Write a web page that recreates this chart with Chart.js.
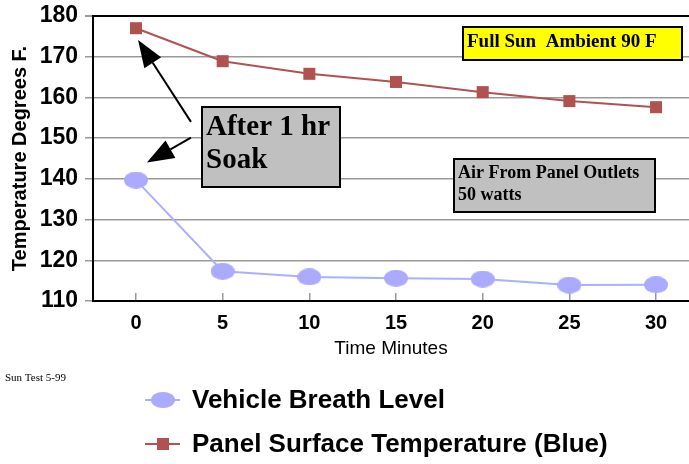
<!DOCTYPE html>
<html lang="en">
<head>
<meta charset="UTF-8">
<title>Sun Test 5-99</title>
<script src="https://cdn.jsdelivr.net/npm/chart.js"></script>
<style>
  html, body { margin: 0; padding: 0; background: #fff; overflow: hidden; }
  #wrap { width: 689px; height: 464px; position: relative; }
</style>
</head>
<body>
<div id="wrap"><canvas id="chart"></canvas></div>
<script>
// data
const minutes = [0, 5, 10, 15, 20, 25, 30];
const breathLevel = [139.7, 117.3, 115.9, 115.6, 115.4, 113.9, 114.0];
const panelSurface = [177.0, 168.9, 165.8, 163.8, 161.3, 159.1, 157.6];
const seriesNames = ['Vehicle Breath Level', 'Panel Surface Temperature (Blue)'];
const yTickStep = 5;

// notes placed in data units (minutes, degrees)
const notes = [
  { lines: ['Full Sun  Ambient 90 F'], x1: 18.86, x2: 31.5, y1: 177.4, y2: 169.1, fill: '#ffff00', size: 19, lineGap: 0 },
  { lines: ['Air From Panel Outlets', '50 watts'], x1: 18.34, x2: 29.93, y1: 144.95, y2: 131.96, fill: '#c0c0c0', size: 18, lineGap: 22 },
  { lines: ['After 1 hr', 'Soak'], x1: 3.81, x2: 11.76, y1: 157.7, y2: 138.1, fill: '#c0c0c0', size: 29, lineGap: 33 }
];
const arrows = [
  { from: [3.17, 154.0], to: [0.12, 174.1] },
  { from: [3.17, 150.1], to: [0.63, 144.0] }
];

function ellipseMarker(w, h, color) {
  const c = document.createElement('canvas');
  c.width = w; c.height = h;
  const g = c.getContext('2d');
  g.fillStyle = color;
  g.beginPath();
  g.ellipse(w / 2, h / 2, w / 2, h / 2, 0, 0, Math.PI * 2);
  g.fill();
  return c;
}
const lavender = '#aaaaff';
const brick = '#b05250';
const breathMarker = ellipseMarker(24, 17, lavender);
const legendEllipse = ellipseMarker(24, 16, lavender);

const notesPlugin = {
  id: 'notes',
  afterDatasetsDraw(chart) {
    const ctx = chart.ctx;
    const xs = chart.scales.x, ys = chart.scales.y;
    ctx.save();
    notes.forEach(n => {
      const l = Math.round(xs.getPixelForValue(n.x1)), r = Math.round(xs.getPixelForValue(n.x2));
      const t = Math.round(ys.getPixelForValue(n.y1)), b = Math.round(ys.getPixelForValue(n.y2));
      ctx.fillStyle = n.fill;
      ctx.fillRect(l, t, r - l, b - t);
      ctx.lineWidth = 2;
      ctx.strokeStyle = '#000';
      ctx.strokeRect(l, t, r - l, b - t);
      ctx.fillStyle = '#000';
      ctx.font = 'bold ' + n.size + 'px "Liberation Serif", "Times New Roman", serif';
      ctx.textBaseline = 'alphabetic';
      ctx.textAlign = 'left';
      const first = t + n.size * 0.78 + 5;
      n.lines.forEach((s, i) => ctx.fillText(s, l + 4, first + i * n.lineGap));
    });
    arrows.forEach(a => {
      const x0 = xs.getPixelForValue(a.from[0]), y0 = ys.getPixelForValue(a.from[1]);
      const x1 = xs.getPixelForValue(a.to[0]), y1 = ys.getPixelForValue(a.to[1]);
      const ang = Math.atan2(y1 - y0, x1 - x0);
      const len = 27, half = 10;
      const bx = x1 - len * Math.cos(ang), by = y1 - len * Math.sin(ang);
      ctx.strokeStyle = '#000';
      ctx.lineWidth = 2;
      ctx.beginPath();
      ctx.moveTo(x0, y0);
      ctx.lineTo(bx, by);
      ctx.stroke();
      ctx.fillStyle = '#000';
      ctx.beginPath();
      ctx.moveTo(x1, y1);
      ctx.lineTo(bx + half * Math.sin(ang), by - half * Math.cos(ang));
      ctx.lineTo(bx - half * Math.sin(ang), by + half * Math.cos(ang));
      ctx.closePath();
      ctx.fill();
    });
    ctx.restore();
  },
  afterDraw(chart) {
    const ctx = chart.ctx;
    ctx.save();
    // footnote
    ctx.fillStyle = '#000';
    ctx.font = '11px "Liberation Serif", "Times New Roman", serif';
    ctx.textAlign = 'left';
    ctx.textBaseline = 'alphabetic';
    ctx.fillText('Sun Test 5-99', 5, 381);
    // legend, one row per series
    const rowY = [400, 444];
    chart.data.datasets.forEach((ds, i) => {
      const y = rowY[i];
      ctx.strokeStyle = ds.borderColor;
      ctx.lineWidth = 2;
      ctx.beginPath();
      ctx.moveTo(145, y);
      ctx.lineTo(180, y);
      ctx.stroke();
      if (i === 0) {
        ctx.drawImage(legendEllipse, 163 - 12, y - 8);
      } else {
        ctx.fillStyle = ds.backgroundColor;
        ctx.fillRect(157, y - 6, 12, 12);
      }
      ctx.fillStyle = '#000';
      ctx.font = 'bold 26px "Liberation Sans", Arial, sans-serif';
      ctx.textBaseline = 'middle';
      ctx.fillText(ds.label, 192, y + 1);
    });
    ctx.restore();
  }
};

new Chart(document.getElementById('chart'), {
  type: 'line',
  data: {
    datasets: [
      {
        label: seriesNames[0],
        data: minutes.map((m, i) => ({ x: m, y: breathLevel[i] })),
        borderColor: '#aab0ff',
        backgroundColor: lavender,
        borderWidth: 2,
        pointStyle: breathMarker,
        tension: 0
      },
      {
        label: seriesNames[1],
        data: minutes.map((m, i) => ({ x: m, y: panelSurface[i] })),
        borderColor: brick,
        backgroundColor: brick,
        borderWidth: 2,
        pointStyle: 'rect',
        pointRadius: 8.5,
        pointBorderWidth: 0,
        tension: 0
      }
    ]
  },
  options: {
    responsive: true,
    maintainAspectRatio: false,
    animation: false,
    events: [],
    layout: { autoPadding: false, padding: { top: 16, left: 0, right: 0, bottom: 101 } },
    plugins: { legend: { display: false }, tooltip: { enabled: false } },
    scales: {
      x: {
        type: 'linear',
        min: -2.48,
        max: 31.9,
        afterBuildTicks: s => { s.ticks = minutes.map(v => ({ value: v })); },
        afterFit: s => { s.height = 62; s.paddingLeft = 0; s.paddingRight = 0; },
        border: { color: '#000', width: 2 },
        grid: { drawOnChartArea: false, tickLength: -8, color: '#999', lineWidth: 1.5 },
        ticks: {
          padding: 18,
          color: '#000',
          font: { family: '"Liberation Sans", Arial, sans-serif', size: 20, weight: 'bold' }
        },
        title: {
          display: true,
          text: 'Time Minutes',
          color: '#000',
          padding: { top: 0, bottom: 3 },
          font: { family: '"Liberation Sans", Arial, sans-serif', size: 19 }
        }
      },
      y: {
        min: 110,
        max: 180,
        afterFit: s => { s.width = 93; s.paddingTop = 0; s.paddingBottom = 0; },
        border: { color: '#000', width: 2 },
        grid: {
          color: c => (c.tick && c.tick.value === 180 ? '#000' : '#999'),
          lineWidth: c => (c.tick && c.tick.value === 180 ? 2 : 1.5),
          tickColor: '#999',
          tickLength: 8
        },
        ticks: {
          stepSize: yTickStep,
          padding: 7,
          color: '#000',
          callback: v => (v % 10 === 0 ? v : ''),
          font: { family: '"Liberation Sans", Arial, sans-serif', size: 23, weight: 'bold' }
        },
        title: {
          display: true,
          text: 'Temperature Degrees F.',
          color: '#000',
          padding: { top: 8, bottom: 0 },
          font: { family: '"Liberation Sans", Arial, sans-serif', size: 20, weight: 'bold' }
        }
      }
    }
  },
  plugins: [notesPlugin]
});
</script>
</body>
</html>
